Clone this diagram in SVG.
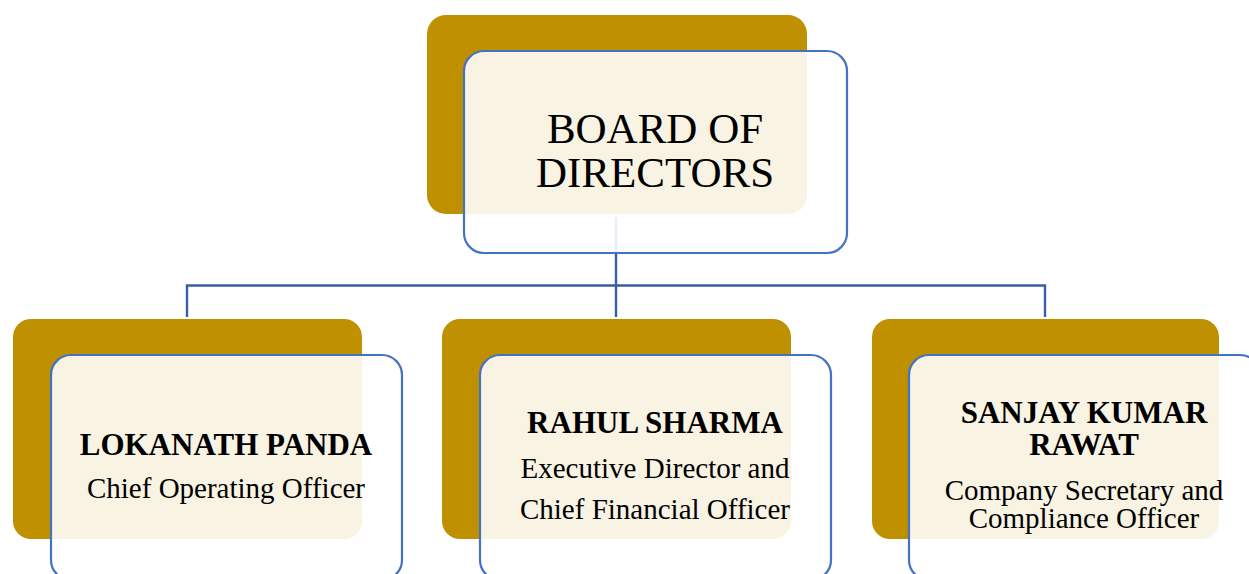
<svg xmlns="http://www.w3.org/2000/svg" width="1249" height="574" viewBox="0 0 1249 574">
<style>
.back{fill:#BF9000;}
.front{fill:#FFFFFF;fill-opacity:0.89;stroke:#4472C4;stroke-width:2.2;}
.conn{fill:none;stroke:#3A5DA8;stroke-width:2.4;}
text{font-family:"Liberation Serif","Times New Roman",serif;fill:#000;text-anchor:middle;}
.title{font-size:43px;}
.name{font-size:31px;font-weight:bold;}
.role{font-size:29px;}
</style>
<rect width="1249" height="574" fill="#FFFFFF"/>
<g id="connectors">
<path class="conn" d="M616,217 V317"/>
<path class="conn" d="M187,317 V285.5 H1045 V317"/>
</g>
<g id="board">
<rect class="back" x="427" y="15" width="380" height="199" rx="19"/>
<rect class="front" x="464" y="51" width="383" height="202" rx="20"/>
<text class="title" x="655" y="143">BOARD OF</text>
<text class="title" x="655" y="187">DIRECTORS</text>
</g>
<g id="lokanath">
<rect class="back" x="13" y="319" width="349" height="220" rx="18"/>
<rect class="front" x="51" y="355" width="351" height="225" rx="20"/>
<text class="name" x="226" y="455">LOKANATH PANDA</text>
<text class="role" x="226" y="498">Chief Operating Officer</text>
</g>
<g id="rahul">
<rect class="back" x="442" y="319" width="349" height="220" rx="18"/>
<rect class="front" x="480" y="355" width="351" height="225" rx="20"/>
<text class="name" x="655" y="433">RAHUL SHARMA</text>
<text class="role" x="655" y="478">Executive Director and</text>
<text class="role" x="655" y="519">Chief Financial Officer</text>
</g>
<g id="sanjay">
<rect class="back" x="872" y="319" width="347" height="220" rx="18"/>
<rect class="front" x="909" y="355" width="351" height="225" rx="20"/>
<text class="name" x="1084" y="423">SANJAY KUMAR</text>
<text class="name" x="1084" y="455">RAWAT</text>
<text class="role" x="1084" y="500">Company Secretary and</text>
<text class="role" x="1084" y="528">Compliance Officer</text>
</g>
</svg>
